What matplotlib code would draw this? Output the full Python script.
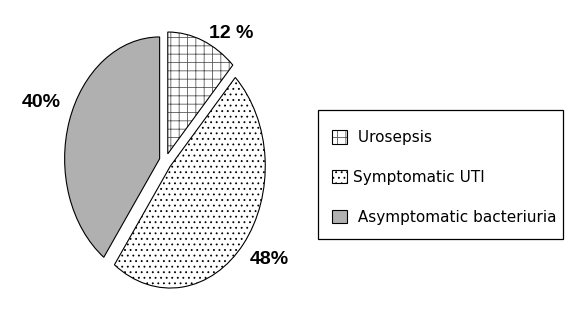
import matplotlib
matplotlib.use('Agg')
import matplotlib.pyplot as plt
from matplotlib.patches import Rectangle

# slice data (clockwise from 12 o'clock)
categories = ['Urosepsis', 'Symptomatic UTI', 'Asymptomatic bacteriuria']
shares = [12, 48, 40]
pct_labels = ['12 %', '48%', '40%']
legend_labels = [' Urosepsis', 'Symptomatic UTI', ' Asymptomatic bacteriuria']

face_cols = ['white', 'white', '#b0b0b0']
hatches = ['++', '...', '']

# pie geometry in pixels (elliptical pie)
W, H = 576, 317
cx_px, cy_px = 165.5, 161.2
rx_px, ry_px = 95.0, 121.8

plt.rcParams['hatch.linewidth'] = 0.6

fig = plt.figure(figsize=(W / 100, H / 100), dpi=100)
ax = fig.add_axes([0, 0, 1, 1])

wedges, _ = ax.pie(shares, explode=[0.065] * len(shares), startangle=90,
                   counterclock=False, colors=face_cols, hatch=hatches,
                   wedgeprops=dict(edgecolor='black', linewidth=0.8))
# dotted-looking grid on the urosepsis slice -> lighter hatch
wedges[0]._hatch_color = (0.35, 0.35, 0.35, 1)

ax.set_aspect('auto')
ax.set_xlim(-cx_px / rx_px, (W - cx_px) / rx_px)
ax.set_ylim(-(H - cy_px) / ry_px, cy_px / ry_px)
ax.axis('off')

# percentage labels (baseline positions, data units)
label_xy = [(0.689, 1.012), (1.089, -0.844), (-1.311, 0.445)]
for txt, (lx, ly) in zip(pct_labels, label_xy):
    ax.text(lx, ly, txt, ha='center', va='baseline', fontsize=14,
            fontweight='bold', family='Liberation Sans')

# legend box drawn separately so the padding matches
fig.add_artist(Rectangle((318 / W, 78 / H), 245 / W, 129 / H,
                         transform=fig.transFigure, fill=False,
                         edgecolor='black', linewidth=0.9))
leg = fig.legend(wedges, legend_labels, loc='upper left',
                 bbox_to_anchor=(332 / W, (H - 130) / H),
                 bbox_transform=fig.transFigure, borderaxespad=0,
                 frameon=False, borderpad=0, labelspacing=1.62,
                 handlelength=1.0, handleheight=1.0, handletextpad=0.35,
                 prop={'family': 'DejaVu Sans', 'size': 11})

plt.savefig('out.png', dpi=100)
